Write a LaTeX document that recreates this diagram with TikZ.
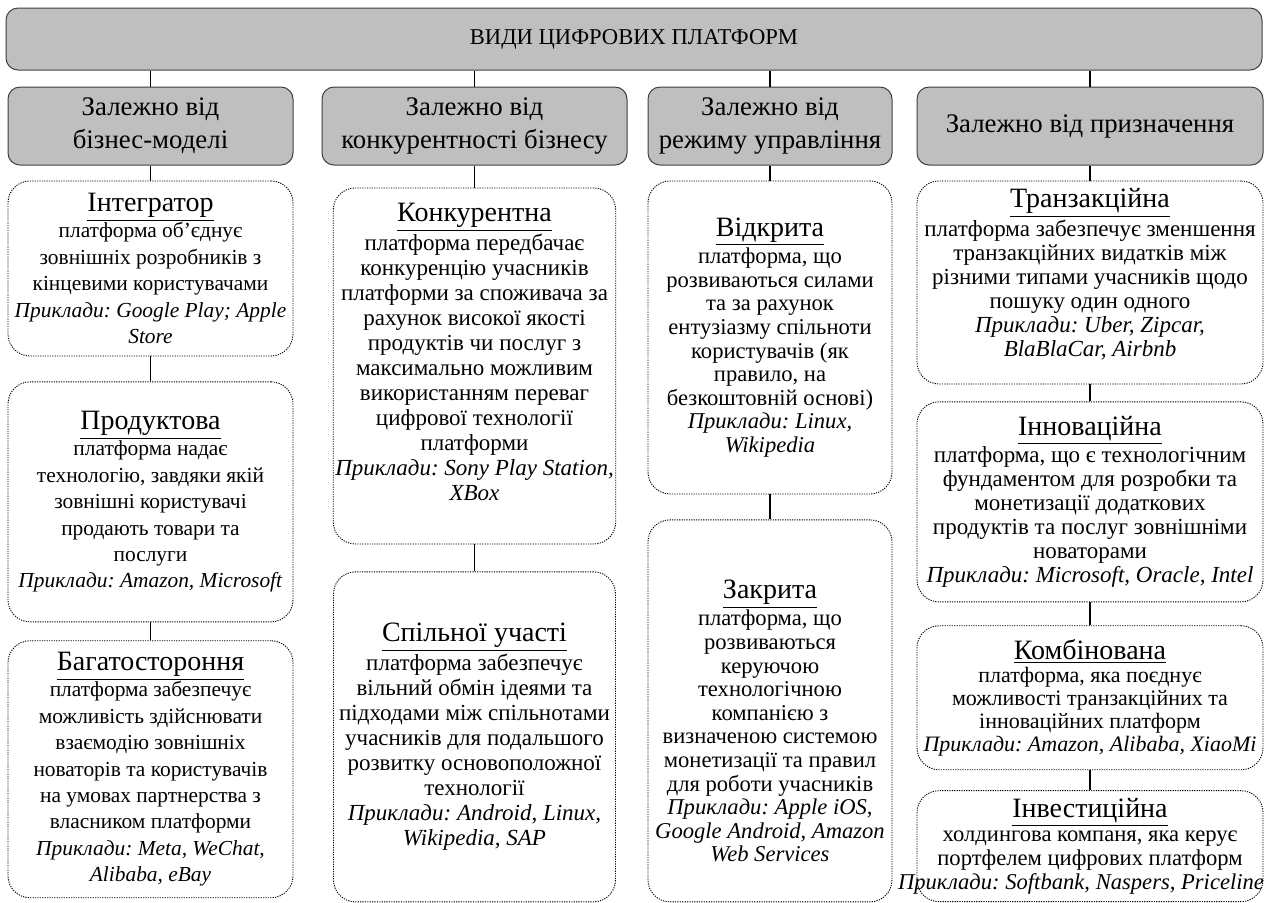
\documentclass[tikz,border=0pt]{standalone}
\usepackage{fontspec}
\setmainfont{Liberation Serif}
\usepackage{tikz}
\usetikzlibrary{positioning}
\definecolor{boxgray}{HTML}{BFBFBF}
\definecolor{boxline}{HTML}{3F3F3F}
\definecolor{ink}{HTML}{000000}
\tikzset{
  topbox/.style  = {rectangle, rounded corners=6pt, draw=boxline, line width=0.5pt,
                    fill=boxgray, align=center, inner sep=2pt,
                    font=\fontsize{11.3}{13}\selectfont},
  catbox/.style  = {rectangle, rounded corners=6pt, draw=boxline, line width=0.5pt,
                    fill=boxgray, minimum height=39pt, align=center, inner sep=1pt,
                    font=\fontsize{13.4}{16.5}\selectfont},
  typebox/.style = {rectangle, rounded corners=11pt, draw=ink, line width=0.45pt,
                    dash pattern=on 0.6pt off 0.6pt, fill=white, align=center,
                    inner sep=1pt, font=\fontsize{11.5}{12.5}\selectfont},
  link/.style    = {draw=ink, line width=0.75pt},
}
\newcommand{\boxtitle}[1]{{\fontsize{14}{12.5}\selectfont\underline{#1}}\\}
\newcommand{\lift}[1]{\\[#1]\mbox{}}
\newcommand{\drop}[1]{\mbox{}\\[#1]}
\frenchspacing

\begin{document}
\begin{tikzpicture}[x=1pt, y=-1pt]

  \useasboundingbox (0,0) rectangle (634,451);

  \node[topbox, minimum width=628pt, minimum height=31pt] (root) at (317,19.5)
       {ВИДИ ЦИФРОВИХ ПЛАТФОРМ};

  \node[catbox, minimum width=142.5pt] (bmodel) at (75.25,63) {Залежно від\\бізнес-моделі};
  \node[catbox, minimum width=152.5pt] (compet) at (237.25,63) {Залежно від\\конкурентності бізнесу};
  \node[catbox, minimum width=122pt] (govern) at (385,63) {Залежно від\\режиму управління};
  \node[catbox, minimum width=173pt] (purpose) at (545,63) {Залежно від призначення};

  \foreach \c in {bmodel, compet, govern, purpose}
    \draw[link] (root.south -| \c.north) -- (\c.north);

  % column 1
  \node[typebox, minimum width=142.5pt, minimum height=87.5pt, below=7.5pt of bmodel,
        font=\fontsize{10.7}{13.2}\selectfont] (integ)
       {\boxtitle{Інтегратор} платформа об’єднує\\ зовнішніх розробників з\\
        кінцевими користувачами\\ \textit{Приклади: Google Play; Apple}\\ \textit{Store}};
  \node[typebox, minimum width=142.5pt, minimum height=120pt, below=12.5pt of integ,
        font=\fontsize{10.7}{13.2}\selectfont] (product)
       {\boxtitle{Продуктова} платформа надає\\ технологію, завдяки якій\\
        зовнішні користувачі\\ продають товари та\\ послуги\\
        \textit{Приклади: Amazon, Microsoft}};
  \node[typebox, minimum width=142.5pt, minimum height=128.5pt, below=9pt of product,
        font=\fontsize{10.7}{13.2}\selectfont] (multi)
       {\boxtitle{Багатостороння} платформа забезпечує\\ можливість здійснювати\\
        взаємодію зовнішніх\\ новаторів та користувачів\\ на умовах партнерства з\\
        власником платформи\\ \textit{Приклади: Meta, WeChat,}\\ \textit{Alibaba, eBay}};

  \draw[link] (bmodel) -- (integ);
  \draw[link] (integ) -- (product);
  \draw[link] (product) -- (multi);

  % column 2
  \node[typebox, minimum width=141pt, minimum height=178pt, below=11pt of compet] (rival)
       {\boxtitle{Конкурентна} платформа передбачає\\ конкуренцію учасників\\
        платформи за споживача за\\ рахунок високої якості\\ продуктів чи послуг з\\
        максимально можливим\\ використанням переваг\\ цифрової технології\\ платформи\\
        \textit{Приклади: Sony Play Station,}\\ \textit{XBox}\lift{1.7pt}};
  \node[typebox, minimum width=141pt, minimum height=165pt, below=13.5pt of rival] (shared)
       {\boxtitle{Спільної участі} платформа забезпечує\\ вільний обмін ідеями та\\
        підходами між спільнотами\\ учасників для подальшого\\ розвитку основоположної\\
        технології\\ \textit{Приклади: Android, Linux,}\\ \textit{Wikipedia, SAP}};

  \draw[link] (compet) -- (rival);
  \draw[link] (rival) -- (shared);

  % column 3
  \node[typebox, minimum width=122pt, minimum height=156.5pt, below=7.5pt of govern,
        font=\fontsize{11.3}{11.8}\selectfont] (open)
       {\boxtitle{Відкрита} платформа, що\\ розвиваються силами\\ та за рахунок\\
        ентузіазму спільноти\\ користувачів (як\\ правило, на\\ безкоштовній основі)\\
        \textit{Приклади: Linux,}\\ \textit{Wikipedia}};
  \node[typebox, minimum width=122pt, minimum height=191pt, below=12.5pt of open,
        font=\fontsize{11.3}{11.8}\selectfont] (closed)
       {\drop{7.5pt}\boxtitle{Закрита} платформа, що\\ розвиваються\\ керуючою\\ технологічною\\
        компанією з\\ визначеною системою\\ монетизації та правил\\ для роботи учасників\\
        \textit{Приклади: Apple iOS,}\\ \textit{Google Android, Amazon}\\ \textit{Web Services}};

  \draw[link] (govern) -- (open);
  \draw[link] (open) -- (closed);

  % column 4
  \node[typebox, minimum width=173pt, minimum height=101.5pt, below=7.5pt of purpose,
        font=\fontsize{11.5}{12}\selectfont] (trans)
       {\boxtitle{Транзакційна} платформа забезпечує зменшення\\ транзакційних видатків між\\
        різними типами учасників щодо\\ пошуку один одного\\
        \textit{Приклади: Uber, Zipcar,}\\ \textit{BlaBlaCar, Airbnb}\lift{-1.8pt}};
  \node[typebox, minimum width=173pt, minimum height=100pt, below=8.5pt of trans,
        font=\fontsize{11.5}{12}\selectfont] (innov)
       {\boxtitle{Інноваційна} платформа, що є технологічним\\ фундаментом для розробки та\\
        монетизації додаткових\\ продуктів та послуг зовнішніми\\ новаторами\\
        \textit{Приклади: Microsoft, Oracle, Intel}};
  \node[typebox, minimum width=173pt, minimum height=72pt, below=11.5pt of innov,
        font=\fontsize{11}{11.5}\selectfont] (combo)
       {\boxtitle{Комбінована} платформа, яка поєднує\\ можливості транзакційних та\\
        інноваційних платформ\\ \textit{Приклади: Amazon, Alibaba, XiaoMi}};
  \node[typebox, minimum width=173pt, minimum height=55.5pt, below=10pt of combo,
        font=\fontsize{11.3}{12}\selectfont] (invest)
       {\boxtitle{Інвестиційна} холдингова компаня, яка керує\\ портфелем цифрових платформ\\
        \makebox[0pt][c]{\textit{Приклади: Softbank, Naspers, Priceline}\hspace*{9pt}}};

  \draw[link] (purpose) -- (trans);
  \draw[link] (trans) -- (innov);
  \draw[link] (innov) -- (combo);
  \draw[link] (combo) -- (invest);

\end{tikzpicture}
\end{document}
